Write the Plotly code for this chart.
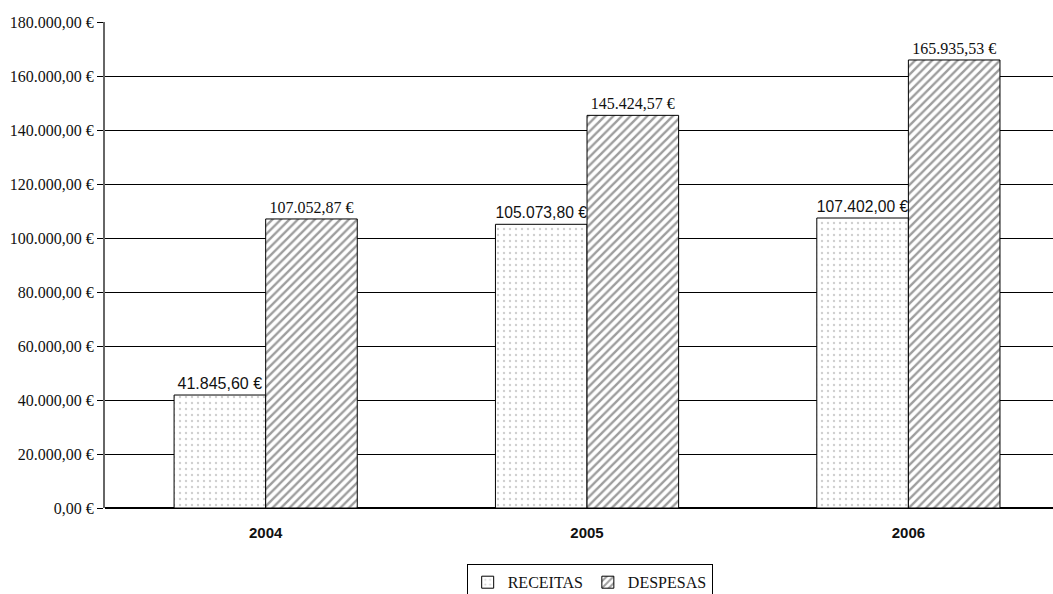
import plotly.graph_objects as go

anos = ["2004", "2005", "2006"]
receitas = [41845.60, 105073.80, 107402.00]
despesas = [107052.87, 145424.57, 165935.53]
y_ticks = [0, 20000, 40000, 60000, 80000, 100000, 120000, 140000, 160000, 180000]


def euro(v):
    # Portuguese number format: "." for thousands, "," for decimals
    s = f"{v:,.2f}".replace(",", "X").replace(".", ",").replace("X", ".")
    return s + " €"


fig = go.Figure()
fig.add_trace(go.Bar(
    name="RECEITAS", x=anos, y=receitas,
    text=[euro(v) for v in receitas], textposition="outside",
    textfont=dict(family="Liberation Sans, Arial", size=16, color="#111"),
    marker=dict(color="white", line=dict(color="black", width=1),
                pattern=dict(shape=".", fgcolor="#a0a0a0", bgcolor="white",
                             size=6, solidity=0.12)),
    cliponaxis=False,
))
fig.add_trace(go.Bar(
    name="DESPESAS", x=anos, y=despesas,
    text=[euro(v) for v in despesas], textposition="outside",
    textfont=dict(family="Liberation Serif, Times New Roman", size=16, color="#111"),
    marker=dict(color="white", line=dict(color="black", width=1),
                pattern=dict(shape="/", fgcolor="#3c3c3c", bgcolor="white",
                             size=6, solidity=0.4)),
    cliponaxis=False,
))

fig.update_layout(
    width=1053, height=594,
    margin=dict(l=105, r=0, t=22, b=86),
    paper_bgcolor="white", plot_bgcolor="white",
    barmode="group", bargap=0.43, bargroupgap=0,
    showlegend=True,
    legend=dict(
        orientation="h", xref="container", x=0.56, xanchor="center",
        yref="container", y=0.05, yanchor="top",
        bordercolor="black", borderwidth=1, bgcolor="white",
        font=dict(family="Liberation Serif, Times New Roman", size=16, color="#111"),
        itemwidth=30, tracegroupgap=0,
    ),
    xaxis=dict(
        range=[-0.5, 2.45], showgrid=False, showline=False, ticks="",
        ticklabelstandoff=14,
        tickfont=dict(family="Liberation Sans Narrow, Liberation Sans, Arial",
                      size=15, color="#111", weight="bold"),
    ),
    yaxis=dict(
        range=[0, 180000], tickvals=y_ticks,
        ticktext=[euro(v) for v in y_ticks],
        showgrid=True, gridcolor="black", gridwidth=1,
        showline=True, linecolor="#666", linewidth=2,
        ticks="outside", ticklen=6, tickcolor="black",
        zeroline=True, zerolinecolor="black", zerolinewidth=1.5,
        tickfont=dict(family="Liberation Serif, Times New Roman", size=16, color="#111"),
    ),
)

fig.write_html("out.html")
